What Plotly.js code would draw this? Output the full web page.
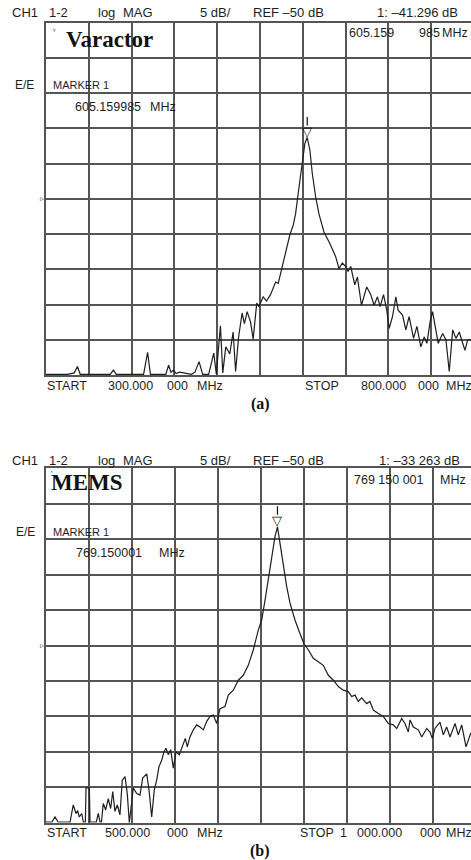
<!DOCTYPE html>
<html>
<head>
<meta charset="utf-8">
<script src="https://cdn.plot.ly/plotly-3.0.1.min.js"></script>
<style>
  html, body { margin: 0; padding: 0; background: #fff; }
  #chart { width: 471px; height: 860px; }
</style>
</head>
<body>
<div id="chart"></div>
<script>
// ---------------- Data ----------------
// Panel (a) Varactor: 300 - 800 MHz, ref -50 dB, 5 dB/div
const freqA = [300, 325, 333, 336.7, 340, 375, 378.8, 382, 414, 418.7, 422, 440, 443.2, 446, 449, 452, 456, 470, 474, 478.8,
  483, 490, 496, 499, 503.8, 506.5, 510, 514.7, 518.6, 521.5, 525, 529.1, 531.8, 535, 539, 542, 546.2, 548.6, 553.7, 557.6,
  562.3, 568.2, 571.3, 576.0, 579.9, 584.9, 588.9, 591.6, 595.4, 599.4, 602.5, 605.16, 608.3, 611.1, 615.0, 618.8, 624.7, 630.6, 638.4, 642.3,
  646.2, 650.1, 652.8, 656.0, 660.7, 663.8, 668.5, 674.7, 679.4, 683.3, 687.2, 690.3, 694.3, 698.1, 700.8, 704.8, 708.7, 711.4, 716.5, 720.4,
  724.2, 729.4, 733.3, 737.9, 741.8, 745.0, 748.8, 751.6, 754.3, 758.2, 763.4, 767.2, 771.1, 775.1, 778.9, 782.8, 786.8, 789.5, 792.6, 797.7, 800];
const dbA = [-74.9, -74.9, -74.7, -73.8, -74.9, -74.9, -74.3, -74.9, -74.9, -71.8, -74.9, -74.9, -73.6, -74.6, -74.3, -74.8, -74.6, -74.9, -74.6, -73.1,
  -74.9, -74.9, -71.9, -74.9, -68.0, -74.7, -71.0, -72.0, -68.9, -74.5, -69.6, -66.2, -67.7, -66.0, -67.5, -69.9, -64.8, -65.3, -63.9, -64.5,
  -63.6, -61.8, -62.0, -59.6, -57.7, -55.1, -53.7, -52.1, -48.5, -45.0, -42.1, -41.296, -43.1, -46.4, -49.7, -52.1, -54.7, -56.1, -58.2, -59.9,
  -59.1, -59.6, -60.3, -59.6, -62.2, -61.1, -65.1, -62.5, -63.6, -65.1, -63.9, -65.3, -63.6, -65.8, -68.4, -66.7, -63.9, -65.8, -66.5, -68.6,
  -66.7, -69.8, -68.1, -71.0, -69.6, -70.5, -67.4, -66.0, -68.1, -70.5, -69.1, -70.0, -74.5, -68.6, -69.8, -68.9, -70.5, -71.5, -70.0, -70.0, -70.2];
const peakFreqA = 605.159985;
const peakDbA = -41.296;

// Panel (b) MEMS: 500 - 1000 MHz, ref -50 dB, 5 dB/div
const freqB = [500, 507, 510.5, 514, 528, 531.7, 534.9, 536.8, 538.7, 541.5, 543.4, 545.8, 546.5, 550.4, 551.2, 558.5, 560.8, 562.8, 564.5, 566.6,
  569.4, 572.4, 575.2, 577.6, 580.2, 582.9, 586.0, 588.7, 591.9, 594.5, 596.9, 599.5, 601.5, 605.5, 609.3, 612.4, 617.1, 619.8, 622.9, 625.9,
  628.7, 631.4, 634.5, 637.2, 639.5, 642.2, 645.0, 648.0, 651.2, 655.0, 659.0, 662.0, 664.3, 667.4, 671.3, 675.2, 679.1, 682.9, 686.9, 690.7,
  694.5, 698.5, 702.3, 708.1, 712.0, 717.8, 723.6, 729.4, 735.2, 741.1, 746.9, 750.8, 754.7, 758.5, 762.4, 766.3, 769.15, 772.9, 775.9, 779.9,
  783.7, 789.5, 795.3, 800.0, 805.0, 810.8, 816.6, 822.4, 828.3, 834.1, 839.9, 845.7, 851.5, 855.5, 859.3, 863.1, 867.1, 872.9, 876.7, 880.6,
  886.4, 892.2, 898.0, 903.8, 907.8, 913.6, 917.4, 921.3, 923.3, 927.1, 932.9, 936.9, 942.7, 946.5, 949.2, 952.3, 958.1, 962.0, 965.9, 969.8,
  975.6, 979.4, 983.4, 988.4, 993.8, 1000];
const dbB = [-74.9, -74.9, -74.2, -74.9, -74.9, -72.5, -73.7, -73.3, -74.2, -73.7, -74.9, -74.9, -70.1, -70.1, -74.9, -74.9, -73.7, -74.9, -74.9, -72.3,
  -73.2, -71.6, -73.0, -70.6, -73.4, -72.5, -73.9, -69.0, -68.5, -70.9, -75.0, -72.0, -70.1, -70.9, -71.1, -68.7, -68.1, -70.4, -74.2, -70.4,
  -69.0, -67.1, -66.2, -65.0, -64.5, -65.4, -64.7, -67.3, -65.0, -65.4, -64.0, -63.1, -64.3, -62.9, -61.9, -61.2, -61.5, -61.9, -60.7, -60.0,
  -59.8, -61.0, -58.9, -58.6, -57.0, -56.3, -54.9, -54.2, -52.8, -50.6, -47.8, -46.4, -43.6, -40.8, -37.5, -34.6, -33.263, -36.1, -38.9, -41.7,
  -44.0, -46.4, -48.3, -49.8, -50.6, -51.8, -52.3, -52.8, -54.2, -54.9, -55.8, -56.3, -56.5, -57.2, -57.0, -57.9, -57.4, -58.2, -57.9, -59.1,
  -59.6, -60.0, -61.0, -61.2, -61.7, -60.3, -61.0, -62.2, -60.5, -61.5, -61.9, -62.9, -61.7, -62.2, -63.1, -61.7, -60.8, -62.6, -61.5, -62.9,
  -61.0, -62.6, -61.2, -64.3, -62.4, -62.0];
const peakFreqB = 769.150001;
const peakDbB = -33.263;

const refLevel = -50;
const dbPerDiv = 5;
const startA = 300, stopA = 800;
const startB = 500, stopB = 1000;

// Texts
const headerA = ['CH1', '1-2', 'log', 'MAG', '5 dB/', 'REF –50 dB', '1: –41.296 dB'];
const headerB = ['CH1', '1-2', 'log', 'MAG', '5 dB/', 'REF –50 dB', '1: –33 263 dB'];
const titleA = 'Varactor';
const titleB = 'MEMS';
const markerFreqTextA = ['605.159', '985', 'MHz'];
const markerFreqTextB = ['769 150 001', 'MHz'];
const markerLineA = ['605.159985', 'MHz'];
const markerLineB = ['769.150001', 'MHz'];
const footerA = ['START', '300.000', '000', 'MHz', 'STOP', '800.000', '000', 'MHz'];
const footerB = ['START', '500.000', '000', 'MHz', 'STOP', '1', '000.000', '000', 'MHz'];
const panelLabels = ['(a)', '(b)'];

// ---------------- Layout helpers ----------------
const W = 471, H = 860, ML = 46;
const PW = W - ML;
const SANS = 'Liberation Sans, Arial, sans-serif';
const SERIF = 'Liberation Serif, Times New Roman, serif';
const INK = '#1e1e1e';
const GRID = '#555555';

function px(x) { return (x - ML) / PW; }
function py(y) { return 1 - y / H; }
function txt(s, x, y, size, opts) {
  opts = opts || {};
  return Object.assign({
    text: s, x: px(x), y: py(y), xref: 'paper', yref: 'paper',
    xanchor: 'left', yanchor: 'middle', showarrow: false,
    font: { family: SANS, size: size, color: INK }
  }, opts);
}

// panel geometry (pixels)
const panA = { top: 22.7, bottom: 375, div: 42.8 };
const panB = { top: 468.3, bottom: 822.7, div: 43.0 };
const xEndA = startA + PW / panA.div * (stopA - startA) / 10;
const xEndB = startB + PW / panB.div * (stopB - startB) / 10;
const yLo = refLevel - 5 * dbPerDiv, yHi = refLevel + 5 * dbPerDiv;

const traces = [
  { x: freqA, y: dbA, xaxis: 'x', yaxis: 'y', type: 'scatter', mode: 'lines',
    line: { color: INK, width: 1.2 }, cliponaxis: true, hoverinfo: 'skip' },
  { x: freqB, y: dbB, xaxis: 'x2', yaxis: 'y2', type: 'scatter', mode: 'lines',
    line: { color: INK, width: 1.2 }, cliponaxis: true, hoverinfo: 'skip' }
];

function xAx(start, end, anchor) {
  return { range: [start, end], tick0: start, dtick: 50, anchor: anchor,
    showticklabels: false, ticks: '', showgrid: true, gridcolor: GRID, gridwidth: 2,
    zeroline: false, showline: true, mirror: true, linecolor: GRID, linewidth: 2, fixedrange: true };
}
function yAx(dom, anchor) {
  return { range: [yLo, yHi], tick0: yLo, dtick: dbPerDiv, domain: dom, anchor: anchor,
    showticklabels: false, ticks: '', showgrid: true, gridcolor: GRID, gridwidth: 2,
    zeroline: false, showline: true, mirror: false, linecolor: GRID, linewidth: 2, fixedrange: true };
}

const ann = [];
// header rows
const headerX = [10, 46.7, 96, 121, 198, 250.7, 375];
headerA.forEach((s, i) => ann.push(txt(s, headerX[i], 13, 13)));
headerB.forEach((s, i) => ann.push(txt(s, headerX[i] + (i === 6 ? 1.5 : 0), 460.7, 13)));

// titles
ann.push(txt('<b>' + titleA + '</b>', 64, 39.5, 23, { font: { family: SERIF, size: 23, color: '#111' } }));
ann.push(txt('<b>' + titleB + '</b>', 49, 483, 23, { font: { family: SERIF, size: 23, color: '#111' } }));
ann.push(txt('ᵛ', 50, 31, 9, { font: { family: SERIF, size: 9, color: '#333' } }));
ann.push(txt("'", 49, 474, 9, { font: { family: SERIF, size: 9, color: '#333' } }));

// marker frequency (top right)
[347, 416.7, 440].forEach((x, i) => ann.push(txt(markerFreqTextA[i], x, 33, 12.5)));
[352.3, 437.7].forEach((x, i) => ann.push(txt(markerFreqTextB[i], x, 480, 12.5)));

// E/E and MARKER 1
ann.push(txt('E/E', 13, 85, 12));
ann.push(txt('MARKER 1', 50.7, 85, 11));
ann.push(txt(markerLineA[0], 73.3, 107, 12.5));
ann.push(txt(markerLineA[1], 148, 107, 12.5));
ann.push(txt('E/E', 14, 531.7, 12));
ann.push(txt('MARKER 1', 50.7, 531.7, 11));
ann.push(txt(markerLineB[0], 74, 552.7, 12.5));
ann.push(txt(markerLineB[1], 156.7, 552.7, 12.5));

// footers
[45, 106, 165, 195, 303, 359, 416, 444].forEach((x, i) => ann.push(txt(footerA[i], x, 386, 12.5)));
[45, 103, 165, 195, 298, 338, 355, 418, 444].forEach((x, i) => ann.push(txt(footerB[i], x, 832.7, 12.5)));

// panel labels
ann.push(txt('<b>' + panelLabels[0] + '</b>', 260, 404, 16, { xanchor: 'center', font: { family: SERIF, size: 16, color: '#111' } }));
ann.push(txt('<b>' + panelLabels[1] + '</b>', 260, 850.7, 16, { xanchor: 'center', font: { family: SERIF, size: 16, color: '#111' } }));

// reference level indicators (left side)
['y', 'y2'].forEach((ya) => {
  ann.push({ text: '▹', x: px(42), y: refLevel, xref: 'paper', yref: ya, xanchor: 'center', yanchor: 'middle',
    showarrow: false, font: { family: 'DejaVu Sans', size: 8, color: '#555' } });
});

// peak markers
[[peakFreqA, peakDbA, 'x', 'y'], [peakFreqB, peakDbB, 'x2', 'y2']].forEach(([f, d, xa, ya]) => {
  ann.push({ text: '▽', x: f, y: d, xref: xa, yref: ya, xanchor: 'center', yanchor: 'bottom', yshift: -3,
    showarrow: false, font: { family: 'DejaVu Sans', size: 13, color: '#111' } });
  ann.push({ text: '', x: f, y: d, xref: xa, yref: ya, showarrow: true, arrowhead: 0, ax: 0, ay: -22,
    standoff: 12, arrowwidth: 1.2, arrowcolor: '#111' });
});

const layout = {
  width: W, height: H,
  margin: { l: ML, r: 0, t: 0, b: 0, pad: 0 },
  paper_bgcolor: '#fff', plot_bgcolor: '#fff',
  showlegend: false,
  xaxis: xAx(startA, xEndA, 'y'),
  yaxis: yAx([py(panA.bottom), py(panA.top)], 'x'),
  xaxis2: xAx(startB, xEndB, 'y2'),
  yaxis2: yAx([py(panB.bottom), py(panB.top)], 'x2'),
  annotations: ann
};

Plotly.newPlot('chart', traces, layout, { displayModeBar: false, staticPlot: true });
</script>
</body>
</html>
